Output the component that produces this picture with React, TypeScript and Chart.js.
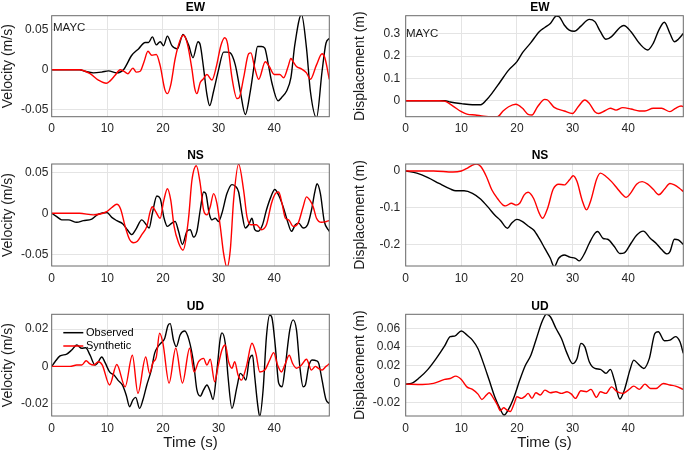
import React, { useEffect, useRef } from "react";
import { Chart, registerables } from "chart.js";

Chart.register(...registerables);

const FONT = '"Liberation Sans", Arial, Helvetica, sans-serif';
Chart.defaults.font.family = FONT;
Chart.defaults.color = "#262626";

// ---------- axis ticks ----------
const timeTicks = [0, 10, 20, 30, 40];
const timeTickLabels = ["0", "10", "20", "30", "40"];
const velTicks5 = [-0.05, 0, 0.05];
const velTickLabels5 = ["-0.05", "0", "0.05"];
const ewDispTicks = [0, 0.1, 0.2, 0.3];
const ewDispTickLabels = ["0", "0.1", "0.2", "0.3"];
const nsDispTicks = [-0.2, -0.1, 0];
const nsDispTickLabels = ["-0.2", "-0.1", "0"];
const udVelTicks = [-0.02, 0, 0.02];
const udVelTickLabels = ["-0.02", "0", "0.02"];
const udDispTicks = [-0.02, 0, 0.02, 0.04, 0.06];
const udDispTickLabels = ["-0.02", "0", "0.02", "0.04", "0.06"];

const seriesNames = ["Observed", "Synthetic"];

// ---------- EW velocity ----------
const ewVelObsT = [0, 5, 6, 7.5, 9, 10.2, 11.7, 12.9, 14.4, 15.6, 16.8, 17.4, 18.1, 18.8, 19.5, 20.1, 20.8, 21.6, 22.6, 23.6, 24.6, 25.4, 26.3, 26.7, 27.3, 27.9, 28.4, 29.1, 30, 30.9, 31.5, 32.1, 33, 33.9, 34.8, 35.7, 36.5, 37, 37.7, 38.3, 38.9, 39.6, 40.7, 41.3, 42.2, 43, 43.7, 44.9, 45.8, 46.5, 47.6, 48.6, 49.3, 49.9];
const ewVelObs = [0, 0, -0.002, -0.004, -0.003, -0.0015, -0.004, 0, 0.018, 0.026, 0.034, 0.034, 0.041, 0.031, 0.035, 0.030, 0.042, 0.030, 0.026, 0.044, 0.031, 0.015, 0.035, 0.031, 0.002, -0.031, -0.045, -0.027, 0, 0.022, 0.022, 0.021, 0.006, -0.027, -0.056, -0.027, 0.010, 0.029, 0.029, 0.027, 0.008, -0.017, -0.039, -0.035, -0.027, -0.010, 0.031, 0.069, 0.027, -0.027, -0.060, -0.002, 0.033, 0.039];
const ewVelSynT = [0, 5, 6.9, 8.4, 9.8, 10.5, 11.4, 12.3, 13, 13.7, 14.6, 15.2, 15.9, 16.6, 17.3, 18, 18.8, 19.5, 20.3, 20.8, 21.4, 22.2, 23.1, 23.7, 24.4, 25.2, 25.7, 26.1, 26.7, 27.2, 27.9, 28.8, 29.6, 30.4, 31.1, 31.6, 32.4, 33.3, 33.7, 34.5, 35.4, 35.8, 36.5, 37.2, 38.4, 39.1, 40, 41, 41.7, 42.5, 43, 43.4, 44, 44.9, 45.8, 46.5, 47.6, 48.6, 49.1, 49.9];
const ewVelSyn = [0, 0, -0.005, -0.013, -0.017, -0.014, -0.007, 0, -0.002, -0.005, 0.002, -0.003, -0.002, 0.010, 0.023, 0.018, 0.019, 0.005, -0.024, -0.030, -0.019, 0.014, 0.037, 0.043, 0.032, 0.001, -0.023, -0.030, -0.016, -0.012, -0.006, -0.013, 0.004, 0.030, 0.040, 0.033, -0.010, -0.036, -0.035, -0.010, 0.020, 0.021, 0.002, -0.012, 0.010, 0.004, -0.006, -0.006, -0.010, 0.004, 0.014, 0.010, 0.004, 0.001, -0.004, -0.012, 0.006, 0.020, 0.015, -0.012];

// ---------- EW displacement ----------
const ewDispObsT = [0, 5, 7, 8, 10, 12, 13.5, 14.5, 15.5, 17, 18.5, 20, 21, 22.5, 24, 25, 26, 27.1, 27.6, 28.5, 29.4, 30.3, 31.5, 33, 34, 35, 36, 37, 38.5, 39.2, 40.5, 42, 43.5, 44.5, 45.5, 46.5, 47.5, 48.3, 49, 49.9];
const ewDispObs = [0, 0, 0, -0.006, -0.013, -0.018, -0.018, 0.003, 0.033, 0.085, 0.137, 0.175, 0.215, 0.26, 0.309, 0.328, 0.346, 0.379, 0.376, 0.339, 0.316, 0.311, 0.334, 0.364, 0.354, 0.309, 0.275, 0.287, 0.328, 0.337, 0.309, 0.257, 0.227, 0.257, 0.316, 0.351, 0.301, 0.264, 0.275, 0.301];
const ewDispSynT = [0, 6, 7, 8.5, 10, 11, 12.5, 14, 15.5, 16.5, 17.5, 18.5, 19.8, 21, 22, 22.7, 23.7, 25, 25.5, 26.7, 28.5, 30, 31, 32.2, 33, 34, 34.7, 35.8, 36.8, 37.8, 39, 40.5, 42, 43, 44.5, 46, 47.5, 48.5, 49.5, 49.9];
const ewDispSyn = [0, 0, -0.002, -0.024, -0.049, -0.06, -0.064, -0.069, -0.072, -0.072, -0.046, -0.027, -0.016, -0.034, -0.061, -0.064, -0.027, 0.006, 0.003, -0.030, -0.046, -0.057, -0.027, 0.003, -0.012, -0.049, -0.057, -0.045, -0.034, -0.042, -0.031, -0.037, -0.046, -0.046, -0.034, -0.034, -0.049, -0.034, -0.024, -0.027];

// ---------- NS velocity ----------
const nsVelObsT = [0, 0.9, 1.8, 3, 4.5, 5.7, 7.2, 8.4, 9.9, 10.8, 11.7, 12.8, 13.6, 14.4, 15.1, 16.2, 16.9, 17.5, 18.1, 18.9, 19.5, 20.2, 20.8, 21.6, 22.2, 22.8, 23.5, 24.3, 24.9, 25.5, 26.1, 26.7, 27.3, 27.7, 28.3, 28.8, 29.4, 30, 30.6, 31.5, 32.4, 33, 33.6, 34.2, 34.8, 35.4, 36, 36.5, 37.1, 37.9, 38.6, 39.4, 40.1, 40.8, 41.6, 42.4, 43.1, 43.8, 44.4, 45.2, 46, 46.7, 47.3, 47.7, 48.3, 49, 49.9];
const nsVelObs = [0, -0.004, -0.008, -0.008, -0.011, -0.009, -0.007, -0.001, 0.001, -0.005, -0.009, -0.013, -0.020, -0.026, -0.020, -0.008, -0.013, -0.018, 0, 0.021, 0.018, -0.006, -0.016, -0.012, -0.010, -0.022, -0.038, -0.022, -0.020, -0.029, -0.022, 0.004, 0.026, 0.024, 0, -0.008, -0.006, -0.010, 0, 0.024, 0.035, 0.033, 0.026, 0, -0.018, -0.014, -0.006, -0.020, -0.022, -0.014, 0.004, 0.020, 0.029, 0.022, 0.008, -0.010, -0.022, -0.014, -0.012, -0.018, -0.014, 0.004, 0.026, 0.036, 0.024, -0.010, -0.022];
const nsVelSynT = [0, 5, 7.5, 9.9, 10.8, 11.7, 12.4, 13.2, 14, 14.7, 15.4, 16.2, 17.1, 17.7, 18.1, 18.7, 19.5, 20.1, 20.8, 21.4, 22, 22.8, 23.6, 24.6, 25.2, 26, 26.7, 27.3, 27.9, 28.5, 29.1, 29.7, 30.3, 30.9, 31.5, 32.1, 32.7, 33.6, 34.5, 35.1, 35.8, 36.8, 37.7, 38.6, 39.5, 40.2, 40.8, 41.4, 42, 42.6, 43.4, 44.3, 45.2, 45.8, 46.4, 47, 47.6, 48.5, 49.4, 49.9];
const nsVelSyn = [0, 0, -0.002, 0.002, 0.007, 0.011, 0.005, -0.016, -0.032, -0.036, -0.034, -0.026, -0.016, 0.002, 0.008, 0.002, -0.006, 0.014, 0.030, 0.016, -0.016, -0.036, -0.045, -0.006, 0.040, 0.058, 0.036, 0.004, -0.002, 0.008, 0.024, 0.012, -0.016, -0.049, -0.066, -0.045, 0.016, 0.060, 0.028, -0.004, -0.014, -0.014, -0.020, -0.014, 0.012, 0.024, 0.026, 0.012, -0.006, -0.008, -0.016, -0.012, 0.008, 0.020, 0.016, 0.008, -0.006, -0.011, -0.010, -0.009];

// ---------- NS displacement ----------
const nsDispObsT = [0, 2, 4, 6, 8, 9, 10.5, 12, 13.5, 15, 16, 17, 18.3, 19, 20, 21, 22, 23, 24, 25, 26, 26.7, 27.5, 28.5, 29.5, 30.5, 31.2, 32, 33, 34, 34.5, 35.5, 36.3, 37.5, 38.5, 39.3, 40.5, 41.5, 42.7, 44, 45, 46, 47, 47.5, 48.3, 49, 49.9];
const nsDispObs = [0, -0.006, -0.018, -0.034, -0.049, -0.054, -0.054, -0.061, -0.077, -0.102, -0.12, -0.134, -0.156, -0.143, -0.132, -0.138, -0.150, -0.161, -0.184, -0.211, -0.238, -0.261, -0.238, -0.229, -0.235, -0.238, -0.245, -0.229, -0.197, -0.170, -0.165, -0.184, -0.186, -0.206, -0.225, -0.223, -0.197, -0.175, -0.164, -0.184, -0.197, -0.214, -0.226, -0.220, -0.186, -0.188, -0.2];
const nsDispSynT = [0, 5, 8.5, 10, 11, 12, 12.7, 13.5, 14.5, 15.5, 16.5, 17.5, 18, 19, 19.8, 20.5, 21.3, 22, 23, 24, 24.6, 25.5, 26.5, 27.5, 28.5, 29.5, 30.1, 30.8, 31.7, 32.5, 33.3, 34.3, 35, 36, 37, 38, 39, 39.6, 40.5, 41.5, 42.5, 43.5, 44.5, 45.5, 46.5, 47.5, 48.3, 49.2, 49.9];
const nsDispSyn = [0, 0, -0.003, 0, 0.007, 0.016, 0.019, 0.012, -0.015, -0.052, -0.075, -0.093, -0.095, -0.088, -0.093, -0.088, -0.065, -0.058, -0.075, -0.115, -0.129, -0.102, -0.05, -0.036, -0.038, -0.023, -0.013, -0.029, -0.079, -0.106, -0.079, -0.023, -0.006, -0.015, -0.029, -0.047, -0.065, -0.072, -0.059, -0.036, -0.029, -0.036, -0.05, -0.065, -0.05, -0.034, -0.038, -0.047, -0.056];

// ---------- UD velocity ----------
const udVelObsT = [0, 0.6, 1.5, 2.7, 3.6, 4.5, 5.4, 6.1, 6.9, 7.8, 8.2, 9, 9.6, 10.4, 11.2, 11.9, 12.7, 13.4, 14, 14.6, 15.1, 15.8, 16.4, 17.1, 17.9, 18.5, 19.1, 19.7, 20.3, 20.9, 21.3, 21.9, 22.4, 23.1, 23.9, 24.7, 25.5, 26.1, 26.7, 27.3, 27.9, 28.5, 29, 29.7, 30.3, 30.6, 31.2, 31.7, 32.4, 33.3, 33.9, 34.5, 34.9, 35.5, 36.1, 36.5, 37, 37.4, 38, 38.6, 39.2, 39.6, 40.2, 40.8, 41.4, 41.9, 42.8, 43.4, 44, 44.6, 45.2, 45.6, 46.2, 46.8, 47.6, 48, 48.6, 49.3, 49.9];
const udVelObs = [0, 0.0025, 0.0056, 0.0066, 0.0088, 0.0115, 0.0097, 0.010, 0.006, 0.0007, 0.0016, 0.005, 0.002, -0.003, -0.0047, -0.0074, -0.010, -0.0155, -0.0217, -0.018, -0.0167, -0.0226, -0.018, -0.010, -0.002, 0.007, 0.0106, 0.0127, 0.015, 0.022, 0.023, 0.014, 0.0106, 0.017, 0.019, 0.014, 0.002, -0.0127, -0.016, -0.0127, -0.010, -0.0136, -0.0178, -0.002, 0.015, 0.018, 0.0124, -0.0056, -0.0226, -0.011, -0.0038, -0.0056, -0.0074, 0.0034, 0.006, -0.0056, -0.02, -0.027, -0.0127, 0.016, 0.0276, 0.026, 0.0106, -0.009, -0.011, -0.002, 0.0196, 0.025, 0.0196, 0, -0.011, -0.010, 0, 0.0034, 0.003, 0.0016, -0.0074, -0.0178, -0.02];
const udVelSynT = [0, 3.3, 4.5, 5.4, 6.2, 6.8, 7.5, 8.4, 9.1, 10.4, 11.7, 13.2, 14.5, 15.5, 16.9, 17.6, 18.2, 18.8, 19.4, 20, 21.1, 22.3, 23.5, 24.8, 25.6, 26.4, 27.3, 27.9, 28.5, 29.3, 29.9, 30.6, 31.2, 31.8, 32.4, 32.9, 33.5, 34.1, 35, 36, 36.7, 37.4, 38.3, 39.2, 39.9, 40.6, 41.3, 41.9, 42.7, 43.3, 44, 44.9, 45.8, 46.7, 47.4, 47.9, 48.6, 49.3, 49.9];
const udVelSyn = [0, 0, 0.0007, 0.0007, 0.003, 0.0015, 0.0007, 0.0025, 0.0007, -0.010, 0.001, -0.011, 0.006, -0.0145, 0.005, -0.0038, 0.002, 0.005, 0.0178, 0.0124, -0.009, 0.0097, -0.009, 0.0097, -0.003, 0.0025, 0.0043, 0.0007, 0.0038, -0.0083, 0, 0.0088, 0.0115, 0.0025, -0.001, 0.0025, -0.0047, -0.0074, 0, 0.0124, 0.007, -0.003, -0.002, 0.0034, 0.0074, 0.0007, -0.003, 0.0007, 0.006, 0.0016, -0.001, 0.0007, 0.0038, -0.002, 0, -0.001, -0.002, 0, 0.0013];

// ---------- UD displacement ----------
const udDispObsT = [0, 1, 2.5, 4, 5.5, 7, 8, 8.8, 10, 11, 12, 13, 14, 15, 16, 17, 17.7, 18.5, 19.5, 20.5, 21.5, 22.5, 23.5, 24.5, 25.3, 26, 27, 28, 29, 30, 30.8, 31.5, 32.2, 33, 34, 35, 36, 36.8, 37.5, 38.5, 39.3, 40.3, 41, 41.8, 42.8, 43.8, 44.8, 45.4, 46.5, 47.5, 48.5, 49.3, 49.9];
const udDispObs = [0, 0.0007, 0.007, 0.0158, 0.0276, 0.041, 0.051, 0.0516, 0.057, 0.0527, 0.0473, 0.038, 0.022, 0.0043, -0.0136, -0.027, -0.0333, -0.027, -0.0136, 0.0043, 0.020, 0.031, 0.049, 0.067, 0.075, 0.0724, 0.060, 0.049, 0.033, 0.022, 0.0276, 0.0437, 0.040, 0.024, 0.0168, 0.0158, 0.0115, 0.0158, 0.0043, -0.016, -0.0065, 0.015, 0.0258, 0.0215, 0.0168, 0.0276, 0.0545, 0.0563, 0.0466, 0.0473, 0.051, 0.0455, 0.033];
const udDispSynT = [0, 3, 5, 7, 8, 9, 10, 11, 12, 13, 13.7, 14.5, 15, 15.8, 16.5, 17, 17.6, 18.2, 18.8, 19.5, 20, 20.8, 21.5, 22, 22.7, 23.4, 24.2, 25, 26, 27, 28, 29, 29.8, 30.5, 31.5, 32.5, 33.3, 34.3, 35, 36, 37, 38, 39, 40, 41, 42, 43, 44, 45, 46.3, 47.5, 48.5, 49.9];
const udDispSyn = [0, -0.0004, 0.0007, 0.005, 0.006, 0.0086, 0.005, -0.003, -0.0057, -0.0108, -0.0165, -0.0118, -0.0093, -0.0154, -0.0226, -0.0285, -0.0255, -0.028, -0.0295, -0.0208, -0.0136, -0.0154, -0.0129, -0.010, -0.0154, -0.0093, -0.0118, -0.0065, -0.0093, -0.0082, -0.010, -0.0082, -0.0108, -0.0154, -0.0072, -0.0082, -0.0057, -0.0143, -0.0082, -0.010, -0.003, -0.0082, -0.010, -0.0065, -0.0022, -0.0057, 0, -0.0047, -0.0047, 0.0007, -0.001, -0.0022, -0.0057];

// ---------- layout ----------
const COLS = [
  { left: 0, width: 340, axisW: 51.7, padRight: 10.7, titleX: 195.5, yTitlePad: 0, tickPad: 3.4, labelX: 53, labelDy: 11.8 },
  { left: 340, width: 345, axisW: 65.7, padRight: 1.7, titleX: 200, yTitlePad: 11.3, tickPad: 5.5, labelX: 66, labelDy: 18.3 },
];
const ROWS = [
  { top: 0, height: 145, padTop: 15.7, axisH: 28.3 },
  { top: 145, height: 150, padTop: 19, axisH: 29 },
  { top: 295, height: 158, padTop: 19.3, axisH: 37 },
];

const GRID = "#e4e4e4";

type PanelDef = {
  row: number;
  col: number;
  title: string;
  yTitle: string;
  yMin: number;
  yMax: number;
  yTicks: number[];
  yTickLabels: string[];
  obsT: number[];
  obs: number[];
  synT: number[];
  syn: number[];
  label?: string;
  legend?: boolean;
  xTitle?: string;
};

const panels: PanelDef[] = [
  { row: 0, col: 0, title: "EW", yTitle: "Velocity (m/s)", yMin: -0.0588, yMax: 0.0675, yTicks: velTicks5, yTickLabels: velTickLabels5, obsT: ewVelObsT, obs: ewVelObs, synT: ewVelSynT, syn: ewVelSyn, label: "MAYC" },
  { row: 0, col: 1, title: "EW", yTitle: "Displacement (m)", yMin: -0.0716, yMax: 0.3806, yTicks: ewDispTicks, yTickLabels: ewDispTickLabels, obsT: ewDispObsT, obs: ewDispObs, synT: ewDispSynT, syn: ewDispSyn, label: "MAYC" },
  { row: 1, col: 0, title: "NS", yTitle: "Velocity (m/s)", yMin: -0.0643, yMax: 0.0601, yTicks: velTicks5, yTickLabels: velTickLabels5, obsT: nsVelObsT, obs: nsVelObs, synT: nsVelSynT, syn: nsVelSyn },
  { row: 1, col: 1, title: "NS", yTitle: "Displacement (m)", yMin: -0.259, yMax: 0.019, yTicks: nsDispTicks, yTickLabels: nsDispTickLabels, obsT: nsDispObsT, obs: nsDispObs, synT: nsDispSynT, syn: nsDispSyn },
  { row: 2, col: 0, title: "UD", yTitle: "Velocity (m/s)", yMin: -0.0267, yMax: 0.028, yTicks: udVelTicks, yTickLabels: udVelTickLabels, obsT: udVelObsT, obs: udVelObs, synT: udVelSynT, syn: udVelSyn, legend: true, xTitle: "Time (s)" },
  { row: 2, col: 1, title: "UD", yTitle: "Displacement (m)", yMin: -0.0343, yMax: 0.075, yTicks: udDispTicks, yTickLabels: udDispTickLabels, obsT: udDispObsT, obs: udDispObs, synT: udDispSynT, syn: udDispSyn, xTitle: "Time (s)" },
];

const decorPlugin = {
  id: "decor",
  afterDraw(chart: any, _args: any, opts: any) {
    const { ctx, chartArea: a } = chart;
    ctx.save();
    ctx.strokeStyle = "#6a6a6a";
    ctx.lineWidth = 1;
    ctx.strokeRect(a.left, a.top, a.right - a.left, a.bottom - a.top);
    ctx.fillStyle = "#000";
    ctx.textAlign = "center";
    ctx.textBaseline = "middle";
    ctx.font = `bold 12px ${FONT}`;
    ctx.fillText(opts.title, opts.titleX, a.top - 8);
    if (opts.label) {
      ctx.font = `11.5px ${FONT}`;
      ctx.textAlign = "left";
      ctx.fillStyle = "#1a1a1a";
      ctx.fillText(opts.label, opts.labelX, a.top + opts.labelDy);
    }
    if (opts.legend) {
      ctx.font = `11px ${FONT}`;
      ctx.textAlign = "left";
      chart.data.datasets.forEach((ds: any, i: number) => {
        const y = a.top + 18.4 + i * 13.3;
        ctx.strokeStyle = ds.borderColor;
        ctx.lineWidth = 1.5;
        ctx.beginPath();
        ctx.moveTo(a.left + 11.6, y);
        ctx.lineTo(a.left + 31.6, y);
        ctx.stroke();
        ctx.fillStyle = "#000";
        ctx.fillText(ds.label, a.left + 34.3, y);
      });
    }
    ctx.restore();
  },
};

function Panel({ p }: { p: PanelDef }) {
  const ref = useRef<HTMLCanvasElement>(null);
  const col = COLS[p.col];
  const row = ROWS[p.row];
  useEffect(() => {
    const toPts = (t: number[], v: number[]) => t.map((x, i) => ({ x, y: v[i] }));
    const chart = new Chart(ref.current as HTMLCanvasElement, {
      type: "line",
      data: {
        datasets: [
          { label: seriesNames[0], data: toPts(p.obsT, p.obs), borderColor: "#000000", borderWidth: 1.4, pointRadius: 0, cubicInterpolationMode: "monotone", fill: false, order: 1 },
          { label: seriesNames[1], data: toPts(p.synT, p.syn), borderColor: "#ff0000", borderWidth: 1.4, pointRadius: 0, cubicInterpolationMode: "monotone", fill: false, order: 0 },
        ],
      },
      options: {
        responsive: false,
        animation: false,
        events: [],
        parsing: false as any,
        layout: { padding: { top: row.padTop, right: col.padRight, left: 0, bottom: 0 } },
        plugins: {
          legend: { display: false },
          title: { display: false },
          tooltip: { enabled: false },
          decor: { title: p.title, titleX: col.titleX, label: p.label, labelX: col.labelX, labelDy: col.labelDy, legend: !!p.legend },
        } as any,
        scales: {
          x: {
            type: "linear",
            min: 0,
            max: 49.9,
            afterBuildTicks: (ax: any) => {
              ax.ticks = timeTicks.map((v) => ({ value: v }));
            },
            afterFit: (ax: any) => {
              ax.height = row.axisH;
            },
            ticks: {
              callback: (_v: any, i: number) => timeTickLabels[i],
              font: { size: 12 },
              color: "#262626",
              padding: 5,
              maxRotation: 0,
              autoSkip: false,
            },
            grid: { color: GRID, drawTicks: false },
            border: { display: false },
            title: p.xTitle
              ? { display: true, text: p.xTitle, font: { size: 15 }, color: "#1a1a1a", padding: { top: 0, bottom: 1 } }
              : { display: false },
          },
          y: {
            type: "linear",
            min: p.yMin,
            max: p.yMax,
            afterBuildTicks: (ax: any) => {
              ax.ticks = p.yTicks.map((v) => ({ value: v }));
            },
            afterFit: (ax: any) => {
              ax.width = col.axisW;
            },
            ticks: {
              callback: (_v: any, i: number) => p.yTickLabels[i],
              font: { size: 12 },
              color: "#262626",
              padding: col.tickPad,
              autoSkip: false,
            },
            grid: { color: GRID, drawTicks: false },
            border: { display: false },
            title: { display: true, text: p.yTitle, font: { size: 14 }, color: "#1a1a1a", padding: { top: col.yTitlePad, bottom: 0 } },
          },
        },
      } as any,
      plugins: [decorPlugin],
    });
    return () => chart.destroy();
  }, []);
  return (
    <div style={{ position: "absolute", left: col.left, top: row.top, width: col.width, height: row.height }}>
      <canvas ref={ref} width={col.width} height={row.height} style={{ display: "block" }} />
    </div>
  );
}

export default function App() {
  return (
    <div style={{ position: "absolute", left: 0, top: 0, width: 685, height: 453, background: "#fff", overflow: "hidden" }}>
      {panels.map((p, i) => (
        <Panel key={i} p={p} />
      ))}
    </div>
  );
}
